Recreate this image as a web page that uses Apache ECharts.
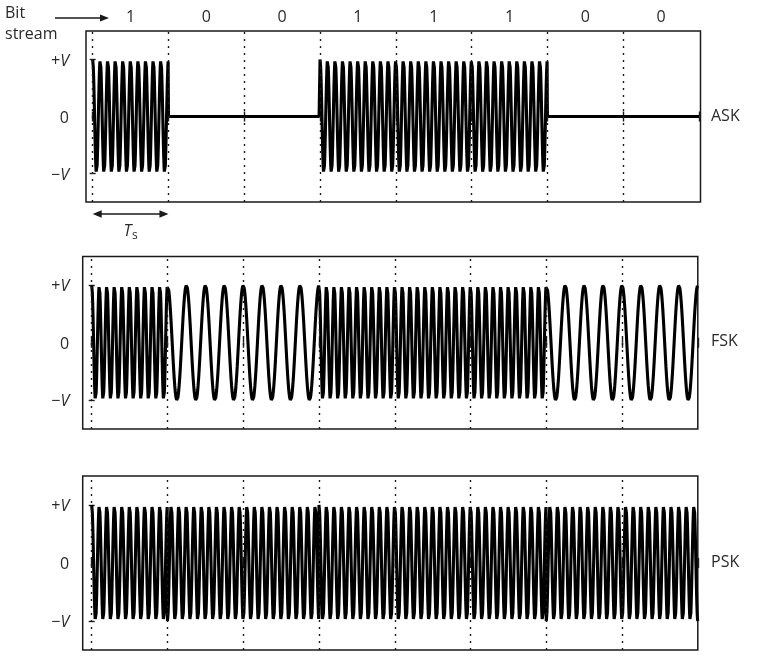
<!DOCTYPE html>
<html><head><meta charset="utf-8">
<script src="https://cdn.jsdelivr.net/npm/echarts@6/dist/echarts.min.js"></script>
<style>html,body{margin:0;padding:0;background:#fff}#c{width:758px;height:666px}</style>
</head><body><div id="c"></div>
<script>
// ---- data ----
const bits = [1, 0, 0, 1, 1, 1, 0, 0];
const bitEdges = [0, 1, 2, 3, 4, 5, 6, 7, 8];
const bitCenters = [0.5, 1.5, 2.5, 3.5, 4.5, 5.5, 6.5, 7.5];
const yTicks = [-1, 0, 1];
const yRightTicks = [-1, 1];
const panelNames = ['ASK', 'FSK', 'PSK'];
// modulation parameters (carrier cycles per bit period), indexed by bit value
const askAmplitude = [0, 1];
const fskCyclesPerBit = [4, 10];
const pskPhase = [Math.PI, 0];
const carrierCyclesPerBit = 10;
const samplesPerBit = 240;

function wave(fn) {
  const pts = [];
  bits.forEach((b, k) => {
    for (let i = 0; i <= samplesPerBit; i++) {
      const t = k + i / samplesPerBit;
      pts.push([t, fn(b, t)]);
    }
  });
  return pts;
}
const askData = wave((b, t) => askAmplitude[b] * Math.cos(2 * Math.PI * carrierCyclesPerBit * t));
const fskData = wave((b, t) => Math.cos(2 * Math.PI * fskCyclesPerBit[b] * t));
const pskData = wave((b, t) => Math.cos(2 * Math.PI * carrierCyclesPerBit * t + pskPhase[b]));
const panelData = [askData, fskData, pskData];

// ---- layout ----
const FONT = 'Open Sans';
const INK = '#1a1a1a';
const TXT = '#2a2a2a';
const FS = 16;
const grids = [
  { left: 86, top: 31, width: 614.5, height: 171 },
  { left: 82.7, top: 256.5, width: 615.1, height: 172.5 },
  { left: 82.7, top: 476, width: 615.1, height: 174 }
];
const xRanges = [[-0.088, 8.02], [-0.119, 8], [-0.119, 8]];
const labelMargins = [17, 13.5, 13.5];

const option = {
  animation: false,
  backgroundColor: '#fff',
  grid: grids.map(g => Object.assign({ show: true, borderColor: INK, borderWidth: 1.5, backgroundColor: 'rgba(0,0,0,0)' }, g)),
  xAxis: [],
  yAxis: [],
  series: [],
  graphic: []
};

grids.forEach((g, p) => {
  const tickStyle = { color: INK, width: 1.4 };
  option.xAxis.push({
    gridIndex: p, type: 'value', position: 'bottom', min: xRanges[p][0], max: xRanges[p][1],
    axisLine: { show: false }, splitLine: { show: false }, axisLabel: { show: false },
    axisTick: { show: true, inside: true, length: 5, customValues: bitEdges, lineStyle: tickStyle }
  });
  option.xAxis.push({
    gridIndex: p, type: 'value', position: 'top', min: xRanges[p][0], max: xRanges[p][1],
    axisLine: { show: false }, splitLine: { show: false },
    axisTick: { show: true, inside: true, length: 5, customValues: bitEdges, lineStyle: tickStyle },
    axisLabel: p === 0 ? {
      show: true, customValues: bitCenters, margin: 6,
      formatter: v => String(bits[Math.floor(v)]),
      fontFamily: FONT, fontSize: FS, color: TXT
    } : { show: false }
  });
  option.yAxis.push({
    gridIndex: p, type: 'value', position: 'left', min: -1.5, max: 1.5,
    axisLine: { show: false }, splitLine: { show: false },
    axisTick: { show: true, inside: true, length: 3, customValues: yTicks, lineStyle: tickStyle },
    axisLabel: {
      show: true, customValues: yTicks, margin: labelMargins[p],
      formatter: v => v > 0 ? '{n|+}{i|V}' : (v < 0 ? '{n|−}{i|V}' : '{n|0}'),
      rich: {
        n: { fontFamily: FONT, fontSize: FS, color: TXT, padding: [3, 0, 0, 0] },
        i: { fontFamily: FONT, fontSize: FS, fontStyle: 'italic', color: TXT, padding: [3, 0, 0, 0] }
      }
    }
  });
  option.yAxis.push({
    gridIndex: p, type: 'value', position: 'right', min: -1.5, max: 1.5,
    axisLine: { show: false }, splitLine: { show: false }, axisLabel: { show: false },
    axisTick: { show: true, inside: true, length: 3, customValues: yRightTicks, lineStyle: tickStyle }
  });
  option.series.push({
    type: 'line', xAxisIndex: 2 * p, yAxisIndex: 2 * p, data: [], z: 1, silent: true,
    markLine: {
      silent: true, symbol: ['none', 'none'], label: { show: false }, animation: false,
      lineStyle: { type: [2, 5], color: INK, width: 1.4 },
      data: bitEdges.slice(0, 8).map(e => ({ xAxis: e }))
    }
  });
  option.series.push({
    type: 'line', xAxisIndex: 2 * p, yAxisIndex: 2 * p, data: panelData[p], z: 3,
    showSymbol: false, symbol: 'none', silent: true,
    lineStyle: { color: '#000', width: 3.1 }
  });
});

const panelLabelY = [117, 342, 563];
panelNames.forEach((n, p) => {
  option.graphic.push({
    id: 'lab' + p, type: 'text', left: 711, top: panelLabelY[p] - 9,
    style: { text: n, fontFamily: FONT, fontSize: FS, fill: TXT }
  });
});
option.graphic.push(
  { id: 'bit', type: 'text', left: 5, top: 5, style: { text: 'Bit', fontFamily: FONT, fontSize: FS, fill: TXT } },
  { id: 'stream', type: 'text', left: 5, top: 26, style: { text: 'stream', fontFamily: FONT, fontSize: FS, fill: TXT } },
  { id: 'bitArrow', type: 'line', shape: { x1: 55, y1: 18, x2: 102, y2: 18 }, style: { stroke: INK, lineWidth: 1.5 } },
  { id: 'bitHead', type: 'polygon', shape: { points: [[100, 14.5], [109, 18], [100, 21.5]] }, style: { fill: INK } }
);

const chart = echarts.init(document.getElementById('c'), null, { renderer: 'canvas' });
chart.setOption(option);

// Ts marker spanning one bit period, positioned through the ASK x-axis scale
const x0 = chart.convertToPixel({ xAxisIndex: 0 }, 0);
const x1 = chart.convertToPixel({ xAxisIndex: 0 }, 1);
const ay = 214;
chart.setOption({
  graphic: [
    { id: 'tsLine', type: 'line', shape: { x1: x0 + 4, y1: ay, x2: x1 - 4, y2: ay }, style: { stroke: INK, lineWidth: 1.5 } },
    { id: 'tsL', type: 'polygon', shape: { points: [[x0, ay], [x0 + 9, ay - 3.8], [x0 + 9, ay + 3.8]] }, style: { fill: INK } },
    { id: 'tsR', type: 'polygon', shape: { points: [[x1, ay], [x1 - 9, ay - 3.8], [x1 - 9, ay + 3.8]] }, style: { fill: INK } },
    { id: 'tsT', type: 'text', left: (x0 + x1) / 2 - 7, top: 223, style: { text: 'T', fontFamily: FONT, fontSize: FS, fontStyle: 'italic', fill: TXT } },
    { id: 'tsS', type: 'text', left: (x0 + x1) / 2 + 1.5, top: 230, style: { text: 's', fontFamily: FONT, fontSize: 12, fill: TXT } }
  ]
});
</script>
</body></html>
